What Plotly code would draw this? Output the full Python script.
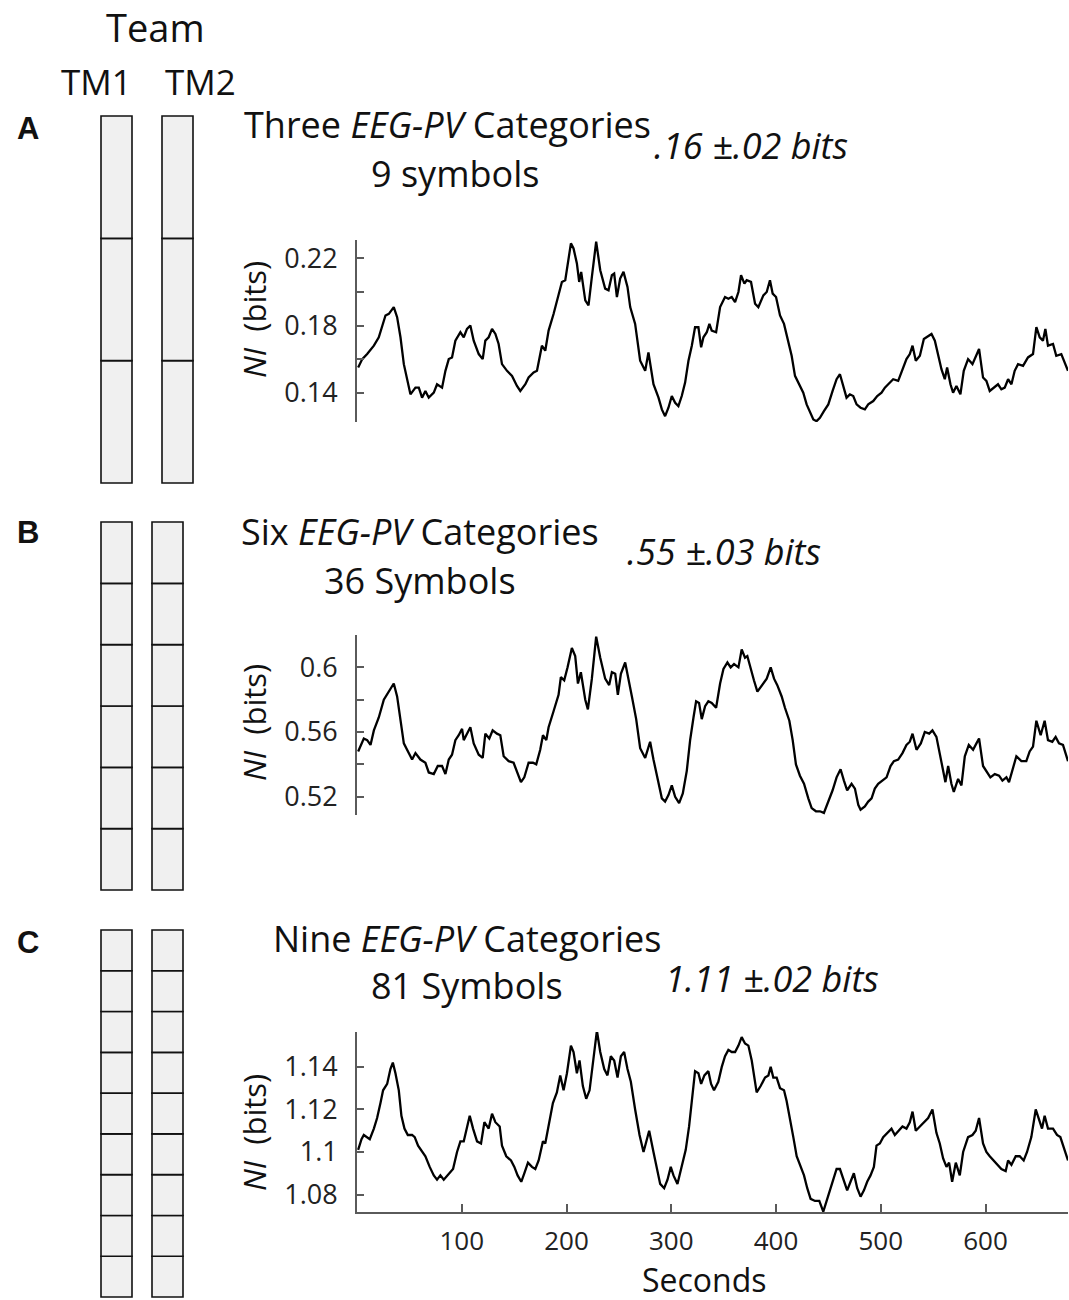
import plotly.graph_objects as go

W = 1069
H = 1300

# NI traces (seconds, bits)
t_a = [1.1, 5.0, 9.7, 16.1, 20.8, 24.0, 27.2, 30.4, 35.1, 38.3,
       41.5, 44.7, 47.8, 51.0, 55.8, 59.0, 62.1, 65.3, 68.5, 73.3,
       76.4, 81.2, 84.4, 87.6, 90.7, 93.9, 98.7, 101.9, 105.0, 108.2,
       111.4, 116.2, 120.0, 122.5, 125.7, 128.9, 132.1, 135.2, 138.4, 143.2,
       148.0, 152.7, 155.9, 160.7, 163.8, 168.6, 171.8, 176.5, 179.7, 182.9,
       187.7, 192.4, 195.6, 198.8, 202.0, 204.2, 206.7, 209.9, 212.1, 214.0,
       217.9, 221.0, 224.2, 228.3, 232.2, 236.9, 240.1, 243.3, 245.5, 248.1,
       251.2, 254.4, 258.2, 260.8, 265.5, 270.3, 275.1,
       278.2, 283.0, 287.8, 291.0, 294.1, 297.3, 300.5, 303.7, 306.8, 310.0,
       313.2, 316.4, 319.6, 322.7, 325.9, 328.5, 330.7, 333.9, 336.4, 338.6,
       342.8, 346.6, 351.3, 354.5, 357.7, 360.9, 364.1, 366.6, 369.8, 372.0,
       376.1, 380.0, 383.1, 387.9, 391.1, 394.2, 396.8, 400.0, 403.8, 407.6,
       411.7, 414.9, 418.1, 422.2, 426.0, 429.2, 432.4, 435.6, 438.7, 441.9,
       445.7, 449.9, 454.0, 457.8, 461.0, 464.2, 467.3, 470.5, 473.7, 476.9,
       480.7, 484.8, 488.0, 492.8, 496.6, 500.7, 503.9, 507.1, 511.8, 516.6,
       519.8, 524.5, 527.7, 530.3, 533.4, 537.3, 541.1, 545.2, 548.4, 551.6,
       554.7, 557.9, 561.1, 563.3, 566.5, 569.0, 572.2, 576.0, 579.2, 583.3,
       587.5, 590.6, 593.8, 597.6, 600.8, 604.0, 607.8, 611.9, 615.1, 618.3,
       621.5, 624.7, 627.8, 631.0, 635.8, 640.5, 645.3, 648.5, 651.7, 654.8,
       657.1, 659.6, 664.4, 667.5, 672.3, 675.5, 678.7]
ni_a = [.155, .160, .163, .168, .173, .179, .186, .187, .191, .185,
        .173, .157, .149, .139, .143, .143, .137, .141, .137, .140,
        .145, .143, .153, .160, .161, .171, .176, .173, .178, .180,
        .171, .163, .160, .171, .173, .178, .175, .169, .157, .153,
        .150, .144, .141, .145, .149, .152, .153, .168, .165, .177,
        .187, .199, .206, .207, .221, .229, .226, .217, .206, .212,
        .195, .192, .209, .230, .213, .202, .201, .210, .211, .197,
        .208, .212, .203, .191, .181, .159, .153,
        .164, .145, .137, .130, .126, .131, .138, .134, .132, .138,
        .146, .159, .168, .179, .179, .167, .173, .176, .181, .177,
        .176, .191, .197, .196, .197, .194, .200, .210, .205, .207,
        .206, .193, .191, .198, .200, .207, .199, .197, .186, .181,
        .171, .162, .150, .145, .140, .133, .128, .124, .123, .125,
        .129, .133, .141, .148, .151, .144, .137, .139, .138, .133,
        .131, .130, .133, .135, .138, .140, .143, .145, .148, .147,
        .152, .160, .163, .168, .159, .162, .172, .174, .175, .171,
        .163, .154, .148, .155, .145, .140, .144, .139, .153, .160,
        .157, .162, .166, .149, .147, .141, .143, .145, .142, .143,
        .148, .145, .153, .157, .156, .161, .163, .179, .173, .171,
        .178, .168, .169, .162, .163, .158, .153]

t_b = [1.1, 4.3, 6.5, 9.7, 12.9, 16.1, 20.8, 25.6, 30.4, 35.1,
       38.3, 41.5, 44.7, 49.4, 52.6, 55.8, 60.5, 65.3, 68.5, 73.3,
       77.1, 81.2, 84.4, 87.6, 90.7, 93.9, 97.1, 100.3, 101.9, 105.0,
       108.2, 111.4, 116.2, 120.0, 122.5, 126.3, 129.5, 133.6, 136.8, 140.0,
       144.8, 149.5, 153.3, 156.5, 159.7, 163.8, 168.0, 171.1, 174.9, 177.5,
       180.7, 182.9, 187.7, 192.4, 194.6, 197.8, 201.0, 205.1, 208.3, 210.9,
       213.7, 217.9, 220.4, 224.2, 228.3, 232.2, 236.9, 240.7, 243.3, 246.5,
       249.0, 251.9, 256.0, 258.5, 262.4, 266.5, 270.3, 275.1,
       279.8, 283.0, 287.8, 291.0, 294.1, 297.3, 300.5, 303.7, 307.5, 311.0,
       314.8, 318.0, 321.2, 323.7, 326.5, 329.1, 332.3, 335.4, 338.6, 342.8,
       346.6, 349.8, 353.6, 356.7, 359.9, 364.1, 367.2, 370.4, 372.6, 376.1,
       378.9, 382.2, 386.3, 391.1, 394.9, 398.1, 401.2, 405.4, 408.5, 412.7,
       415.9, 419.0, 422.8, 426.7, 430.8, 434.0, 438.1, 441.9, 445.7, 449.9,
       454.0, 457.8, 461.6, 464.8, 467.9, 472.1, 475.3, 478.5, 480.7, 484.8,
       488.0, 491.2, 494.3, 497.5, 501.7, 505.5, 509.3, 512.5, 516.6, 520.7,
       524.5, 527.7, 530.3, 534.1, 538.2, 542.0, 546.2, 549.3, 553.1, 555.7,
       558.8, 561.7, 564.3, 567.4, 569.7, 573.8, 577.0, 580.2, 584.0, 588.1,
       591.3, 593.8, 597.6, 601.4, 604.6, 608.8, 612.9, 616.1, 619.9, 622.4,
       625.6, 629.4, 634.2, 638.9, 642.1, 645.3, 648.5, 652.6, 656.4, 659.6,
       663.7, 666.9, 670.1, 673.9, 678.7]
ni_b = [.548, .553, .556, .555, .552, .561, .569, .580, .585, .590,
        .582, .567, .553, .547, .543, .547, .543, .541, .535, .534,
        .539, .539, .534, .543, .546, .555, .558, .562, .555, .559,
        .563, .553, .546, .544, .559, .556, .561, .559, .558, .545,
        .542, .541, .534, .529, .532, .541, .541, .540, .549, .558,
        .555, .563, .573, .583, .594, .592, .600, .612, .607, .590,
        .597, .580, .574, .593, .619, .606, .593, .589, .597, .596,
        .583, .596, .603, .594, .582, .568, .550, .544,
        .554, .543, .528, .519, .517, .521, .527, .520, .516, .522,
        .536, .555, .569, .579, .578, .568, .576, .579, .578, .575,
        .590, .599, .603, .600, .602, .600, .611, .606, .607, .598,
        .592, .585, .589, .593, .600, .593, .589, .582, .575, .567,
        .555, .540, .533, .528, .519, .513, .511, .511, .510, .517,
        .524, .532, .537, .530, .524, .528, .525, .515, .512, .514,
        .517, .519, .525, .528, .530, .532, .539, .542, .543, .547,
        .552, .554, .559, .549, .553, .560, .559, .561, .557, .549,
        .539, .529, .539, .528, .523, .531, .527, .545, .552, .549,
        .553, .556, .539, .535, .532, .534, .533, .530, .532, .529,
        .537, .545, .542, .542, .548, .551, .567, .558, .567, .555,
        .554, .557, .553, .552, .542]

t_c = [1.1, 4.3, 6.5, 9.7, 12.2, 16.1, 19.2, 22.4, 24.9, 28.8,
       31.9, 34.2, 36.7, 39.9, 42.4, 45.3, 48.5, 52.6, 55.1, 58.3,
       62.1, 65.3, 69.4, 73.3, 76.4, 79.6, 82.8, 86.0, 89.2, 91.7,
       95.5, 98.7, 101.9, 105.0, 107.6, 110.8, 114.6, 118.4, 121.6, 125.7,
       128.9, 132.1, 136.2, 138.4, 142.5, 147.0, 150.2, 153.3, 156.8, 159.7,
       163.2, 167.0, 170.2, 173.4, 177.5, 179.7, 182.9, 187.0, 190.8, 194.0,
       197.2, 200.4, 204.2, 206.7, 209.9, 212.4, 215.6, 218.8, 222.0, 225.8,
       229.0, 232.2, 236.0, 239.1, 242.3, 245.5, 248.7, 251.9, 255.0, 258.2,
       261.4, 265.5, 269.7, 273.5,
       278.9, 283.0, 286.2, 289.4, 293.2, 296.4, 299.5, 302.1, 305.9, 310.0,
       313.8, 317.0, 320.2, 322.7, 325.9, 328.5, 331.6, 335.4, 338.0, 340.8,
       344.9, 348.2, 351.3, 354.5, 357.7, 360.9, 364.1, 367.2, 370.4, 373.6,
       376.8, 379.0, 381.5, 385.3, 389.5, 392.7, 394.9, 397.4, 400.6, 403.8,
       407.6, 410.1, 413.3, 416.5, 419.7, 423.5, 426.7, 429.8, 433.0, 437.2,
       441.3, 445.1, 448.3, 451.4, 454.6, 457.8, 461.0, 464.2, 467.9, 471.1,
       474.3, 477.5, 480.7, 483.9, 487.0, 490.2, 493.4, 495.9, 499.1, 502.3,
       506.1, 510.2, 513.4, 517.5, 520.7, 524.5, 527.7, 530.3, 533.4, 537.3,
       541.1, 545.2, 549.3, 553.1, 556.3, 559.5, 562.7, 565.2, 568.1, 571.6,
       575.4, 578.6, 583.3, 587.5, 590.6, 593.8, 597.6, 600.8, 604.0, 607.8,
       611.9, 615.1, 619.2, 621.5, 624.7, 628.8, 632.6, 636.4, 639.6, 643.7,
       647.9, 651.0, 653.9, 656.4, 659.6, 664.4, 668.2, 671.4, 675.5, 678.7]
ni_c = [1.101, 1.106, 1.108, 1.107, 1.106, 1.111, 1.116, 1.123, 1.129, 1.132,
        1.139, 1.142, 1.137, 1.129, 1.117, 1.111, 1.108, 1.108, 1.107, 1.103,
        1.100, 1.098, 1.093, 1.089, 1.087, 1.089, 1.087, 1.089, 1.091, 1.092,
        1.100, 1.105, 1.105, 1.112, 1.117, 1.111, 1.105, 1.104, 1.114, 1.111,
        1.118, 1.114, 1.112, 1.103, 1.098, 1.096, 1.093, 1.089, 1.086, 1.090,
        1.095, 1.093, 1.092, 1.096, 1.105, 1.104, 1.112, 1.123, 1.128, 1.136,
        1.129, 1.137, 1.150, 1.147, 1.137, 1.143, 1.131, 1.125, 1.129, 1.145,
        1.157, 1.147, 1.139, 1.136, 1.145, 1.143, 1.135, 1.145, 1.147, 1.139,
        1.133, 1.120, 1.108, 1.100,
        1.110, 1.100, 1.093, 1.085, 1.083, 1.087, 1.093, 1.089, 1.085, 1.093,
        1.101, 1.112, 1.125, 1.138, 1.137, 1.132, 1.136, 1.138, 1.132, 1.129,
        1.133, 1.140, 1.145, 1.148, 1.147, 1.147, 1.150, 1.154, 1.151, 1.150,
        1.143, 1.136, 1.128, 1.131, 1.135, 1.136, 1.140, 1.135, 1.135, 1.130,
        1.129, 1.124, 1.116, 1.107, 1.098, 1.093, 1.089, 1.083, 1.078, 1.077,
        1.077, 1.072, 1.077, 1.081, 1.086, 1.092, 1.092, 1.087, 1.082, 1.086,
        1.090, 1.083, 1.079, 1.082, 1.086, 1.089, 1.093, 1.103, 1.104, 1.107,
        1.109, 1.111, 1.108, 1.110, 1.112, 1.111, 1.114, 1.119, 1.110, 1.112,
        1.114, 1.116, 1.120, 1.109, 1.104, 1.097, 1.093, 1.095, 1.086, 1.095,
        1.089, 1.100, 1.107, 1.108, 1.110, 1.116, 1.104, 1.100, 1.098, 1.096,
        1.094, 1.092, 1.091, 1.096, 1.094, 1.098, 1.098, 1.096, 1.100, 1.107,
        1.120, 1.115, 1.111, 1.117, 1.111, 1.111, 1.108, 1.107, 1.101, 1.096]

# symbol grid per team member
team_members = ['TM1', 'TM2']
n_categories = [3, 6, 9]

panel_letters = ['A', 'B', 'C']
category_words = ['Three', 'Six', 'Nine']
symbol_labels = ['9 symbols', '36 Symbols', '81 Symbols']
bits_labels = ['.16 ±.02 bits', '.55 ±.03 bits', '1.11 ±.02 bits']

ytick_a = [0.14, 0.16, 0.18, 0.20, 0.22]
ylab_a = ['0.14', '', '0.18', '', '0.22']
ytick_b = [0.52, 0.54, 0.56, 0.58, 0.60, 0.62]
ylab_b = ['0.52', '', '0.56', '', '0.6', '']
ytick_c = [1.08, 1.10, 1.12, 1.14]
ylab_c = ['1.08', '1.1', '1.12', '1.14']
xticks_c = [100, 200, 300, 400, 500, 600]

FONT = 'Open Sans'
AXIS_GREY = '#5a5a5a'


def px_x(px):
    return px / W


def px_y(py):
    return 1 - py / H


fig = go.Figure()
layout = dict(
    width=W, height=H,
    margin=dict(l=0, r=0, t=0, b=0),
    paper_bgcolor='white', plot_bgcolor='rgba(0,0,0,0)',
    showlegend=False, barmode='overlay',
    font=dict(family=FONT, color='#111'),
)

# rectangles (stacked cells) for each panel
rect_boxes = [  # left px of TM1, left px of TM2, top px, bottom px
    (101, 162, 116, 483),
    (101, 152, 522, 890),
    (101, 152, 930, 1297),
]
for i, n in enumerate(n_categories):
    x1, x2, top, bot = rect_boxes[i]
    bw = 31
    sep = x2 - x1
    c0 = x1 + bw / 2
    xr = [c0 - sep * 0.5, c0 + sep * 1.5]
    unit = (bot - top) / n
    pad = 3
    xs = []
    ys = []
    bases = []
    for k, m in enumerate(team_members):
        for s in range(n):
            xs.append(k)
            ys.append(1)
            bases.append(s)
    ax = '' if i == 0 else str(i + 1)
    fig.add_trace(go.Bar(
        x=xs, y=ys, base=bases, width=bw / sep,
        marker=dict(color='#f0f0f0', line=dict(color='#111', width=1.6)),
        xaxis='x' + ax, yaxis='y' + ax, hoverinfo='skip',
    ))
    layout['xaxis' + ax] = dict(domain=[px_x(xr[0]), px_x(xr[1])], range=[-0.5, 1.5],
                                visible=False, anchor='y' + ax)
    layout['yaxis' + ax] = dict(domain=[px_y(bot + pad), px_y(top - pad)],
                                range=[-pad / unit, n + pad / unit],
                                visible=False, anchor='x' + ax)

# NI line panels
line_panels = [
    (t_a, ni_a, 240, 422, [0.1225, 0.231], ytick_a, ylab_a),
    (t_b, ni_b, 635, 815, [0.5087, 0.6200], ytick_b, ylab_b),
    (t_c, ni_c, 1032, 1212, [1.0718, 1.1564], ytick_c, ylab_c),
]
x_left = 357
x_right = 1068
for i, (tt, vv, top, bot, yr, tv, tl) in enumerate(line_panels):
    ax = str(i + 4)
    fig.add_trace(go.Scatter(
        x=tt, y=vv, mode='lines',
        line=dict(color='black', width=2.3),
        xaxis='x' + ax, yaxis='y' + ax, hoverinfo='skip',
    ))
    xa = dict(domain=[px_x(x_left), px_x(x_right)], range=[0, 678.7],
              anchor='y' + ax, showgrid=False, zeroline=False)
    if i == 2:
        xa.update(showline=True, linecolor=AXIS_GREY, linewidth=1.8,
                  ticks='inside', ticklen=8, tickwidth=1.5, tickcolor=AXIS_GREY,
                  tickvals=xticks_c, ticklabelstandoff=5,
                  tickfont=dict(family=FONT, size=26, color='#222'))
    else:
        xa.update(visible=False)
    layout['xaxis' + ax] = xa
    layout['yaxis' + ax] = dict(
        domain=[px_y(bot), px_y(top)], range=yr, anchor='x' + ax,
        showgrid=False, zeroline=False,
        showline=True, linecolor=AXIS_GREY, linewidth=1.8,
        ticks='inside', ticklen=7, tickwidth=1.5, tickcolor=AXIS_GREY,
        tickvals=tv, ticktext=tl, ticklabelstandoff=12,
        tickfont=dict(family=FONT, size=27, color='#222'),
    )

fig.update_layout(**layout)

# text
notes = []


def note(text, x, y, size, **kw):
    notes.append(dict(text=text, x=px_x(x), y=px_y(y), xref='paper', yref='paper',
                      showarrow=False, xanchor=kw.pop('xanchor', 'center'),
                      yanchor=kw.pop('yanchor', 'middle'),
                      font=dict(family=kw.pop('family', FONT), size=size, color='#111'),
                      **kw))


note('Team', 155, 0, 38, yanchor='top', borderpad=0)
note(team_members[0], 96, 82, 35)
note(team_members[1], 200, 82, 35)

letter_y = [128, 533, 942]
title_pos = [(447, 125, 455, 173, 751, 145),
             (420, 531, 420, 580, 724, 551),
             (467, 938, 467, 986, 772, 978)]
ytitle_y = [320, 723, 1133]
for i in range(3):
    note('<b>' + panel_letters[i] + '</b>', 28, letter_y[i], 31, family='Liberation Sans')
    tx, ty, sx, sy, bx, by = title_pos[i]
    note(category_words[i] + ' <i>EEG-PV</i> Categories', tx, ty, 36)
    note(symbol_labels[i], sx, sy, 36)
    note('<i>' + bits_labels[i] + '</i>', bx, by, 36)
    note('<i>NI</i>  (bits)', 254, ytitle_y[i], 31, textangle=-90)

note('Seconds', 704, 1279, 32)

fig.update_layout(annotations=notes)

fig.write_html("out.html", config={'displayModeBar': False},
               post_script="document.body.style.margin='0px';")
